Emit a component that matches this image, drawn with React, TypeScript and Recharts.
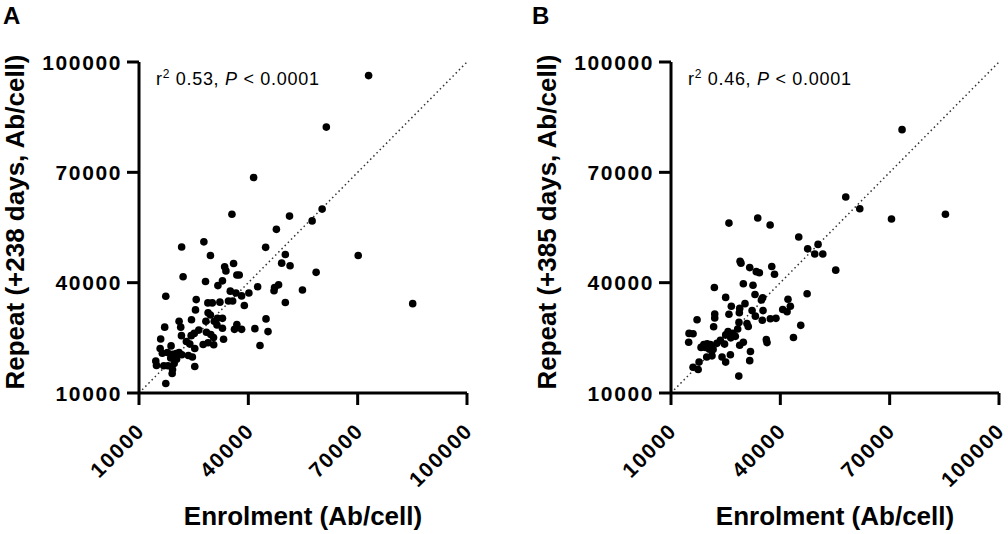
import React from "react";
import {
  ReferenceLine,
  Scatter,
  ScatterChart,
  XAxis,
  YAxis,
} from "recharts";

// Ab/cell values, one entry per subject.
const enrolA = [
  73000, 61400, 41450, 35500, 51300, 60250, 57500, 47700, 27800, 21700, 29600,
  44750, 70150, 50150, 49150, 51450, 35950, 33500, 33850, 36850, 37500, 22100,
  58600, 28250, 32900, 31650, 42550, 47200, 48300, 47050, 54850, 35050, 36600,
  38150, 40150, 17350, 34550, 35700, 38900, 50150, 85100, 25700, 28900, 30100,
  32200, 25500, 28950, 29600, 24400, 21000, 31550, 32900, 28350, 30650, 44850,
  17050, 21450, 31400, 32900, 36850, 36200, 38150, 41800, 45400, 26400, 28500,
  25150, 24300, 21650, 29700, 30450, 33200, 15950, 23000, 23950, 27600, 28950,
  30500, 25300, 18800, 43200, 15800, 16400, 17800, 19200, 20200, 21000, 21750,
  23550, 24650, 14600, 14800, 16800, 17950, 19650, 18700, 20300, 25300, 19100,
  19200, 17350,
];
const repeatA = [
  96300, 82300, 68600, 58600, 58100, 60000, 56800, 54500, 51100, 49700, 47400,
  49600, 47400, 47650, 45300, 44600, 45200, 44300, 43200, 42100, 42100, 41600,
  42800, 40300, 40500, 39200, 38900, 38700, 39400, 37800, 38000, 37700, 37200,
  36400, 37200, 36300, 35000, 35000, 33800, 34600, 34300, 35400, 34500, 34500,
  34700, 32600, 31800, 31200, 29900, 29500, 30300, 30300, 29500, 29500, 30150,
  27900, 27900, 28500, 27600, 28600, 27300, 27300, 27500, 26700, 27100, 26500,
  26200, 25600, 25600, 25900, 25100, 24600, 24700, 24000, 23300, 23200, 23650,
  23100, 22100, 22800, 22900, 22100, 20800, 21000, 20500, 20700, 21000, 20400,
  20200, 19800, 18700, 17500, 17400, 17400, 18000, 19500, 19200, 17200, 15300,
  16400, 12600,
];

const enrolB = [
  73400, 57950, 61800, 70500, 85300, 25900, 33800, 37200, 45050, 47500, 50350,
  49450, 51650, 28950, 29200, 31600, 33400, 34250, 37650, 38400, 55200, 21900,
  29850, 32500, 25000, 33050, 34800, 35150, 47350, 42100, 42750, 40650, 41850,
  26550, 28850, 30300, 28750, 32250, 35250, 33150, 35050, 37250, 38800, 22000,
  22000, 25900, 17150, 21700, 28650, 30850, 31200, 45600, 14950, 16050, 14850,
  28300, 27000, 25650, 25000, 23550, 26400, 27650, 36150, 36350, 43600, 24700,
  29850, 28850, 19000, 19900, 20800, 19450, 18250, 20550, 21550, 31800, 21250,
  19800, 24000, 26300, 25000, 17700, 31600, 16050, 17450, 28600, 22600,
];
const repeatB = [
  81600, 63300, 60100, 57300, 58600, 56200, 57600, 55700, 52400, 49200, 50400,
  47800, 47800, 45800, 45300, 44100, 43000, 42700, 44400, 42300, 43400, 38700,
  39700, 39300, 36000, 36800, 35300, 35900, 37000, 35500, 33600, 32700, 32100,
  33600, 33000, 34300, 31800, 32400, 32400, 30900, 29800, 30200, 30300, 31500,
  30400, 31400, 29900, 28000, 29200, 28900, 28100, 28400, 26200, 26100, 23800,
  27400, 26200, 26700, 25800, 24300, 25000, 25400, 24500, 23700, 25100, 23300,
  23800, 23000, 23200, 23400, 23200, 22400, 22400, 21900, 21800, 21300, 20100,
  19800, 19800, 20400, 18400, 18400, 18800, 17000, 16400, 14600, 23500,
];

const axisTicks = [10000, 40000, 70000, 100000];
const axisDomain: [number, number] = [10000, 100000];

const FONT = '"Liberation Sans", Arial, Helvetica, sans-serif';
const INK = "#000";

function zip(xs: number[], ys: number[]) {
  return xs.map((x, i) => ({ x, y: ys[i] }));
}

function YTick({ x, y, payload }: any) {
  return (
    <text
      x={x}
      y={y}
      dx={-1}
      dy="0.36em"
      textAnchor="end"
      fill={INK}
      fontFamily={FONT}
      fontSize={21}
      fontWeight={700}
      letterSpacing={1.6}
    >
      {payload.value}
    </text>
  );
}

function XTick({ x, y, payload }: any) {
  return (
    <text
      transform={`translate(${x + 7}, ${y + 27}) rotate(-45)`}
      textAnchor="end"
      fill={INK}
      fontFamily={FONT}
      fontSize={21}
      fontWeight={700}
      letterSpacing={1.6}
    >
      {payload.value}
    </text>
  );
}

const dot = (props: any) => (
  <circle cx={props.cx} cy={props.cy} r={3.8} fill={INK} />
);

function Panel({
  letter,
  letterX,
  axisLeft,
  marginRight,
  yTitle,
  stat,
  data,
}: {
  letter: string;
  letterX: number;
  axisLeft: number;
  marginRight: number;
  yTitle: string;
  stat: string;
  data: { x: number; y: number }[];
}) {
  const W = 504;
  const H = 534;
  const plotRight = W - marginRight;
  return (
    <div style={{ position: "relative", width: W, height: H }}>
      <ScatterChart
        width={W}
        height={H}
        margin={{ top: 62, right: marginRight, bottom: 0, left: 0 }}
      >
        <XAxis
          type="number"
          dataKey="x"
          domain={axisDomain}
          ticks={axisTicks}
          interval={0}
          allowDataOverflow
          height={141}
          tickSize={12}
          tickMargin={0}
          tick={<XTick />}
          axisLine={{ stroke: INK, strokeWidth: 3 }}
          tickLine={{ stroke: INK, strokeWidth: 3 }}
        />
        <YAxis
          type="number"
          dataKey="y"
          domain={axisDomain}
          ticks={axisTicks}
          interval={0}
          allowDataOverflow
          width={axisLeft}
          tickSize={12}
          tickMargin={4}
          tick={<YTick />}
          axisLine={{ stroke: INK, strokeWidth: 3 }}
          tickLine={{ stroke: INK, strokeWidth: 3 }}
        />
        <ReferenceLine
          segment={[
            { x: 10000, y: 10000 },
            { x: 100000, y: 100000 },
          ]}
          stroke="#333"
          strokeWidth={1.5}
          strokeDasharray="1.5 3"
        />
        <Scatter data={data} fill={INK} shape={dot} isAnimationActive={false} />
      </ScatterChart>
      <svg
        width={W}
        height={H}
        style={{ position: "absolute", left: 0, top: 0, pointerEvents: "none" }}
      >
        <text
          x={letterX}
          y={24}
          fontFamily={FONT}
          fontSize={24}
          fontWeight={700}
          fill={INK}
        >
          {letter}
        </text>
        <text
          transform={`translate(${axisLeft - 115}, 222) rotate(-90)`}
          textAnchor="middle"
          fontFamily={FONT}
          fontSize={26}
          fontWeight={700}
          fill={INK}
        >
          {yTitle}
        </text>
        <text
          x={(axisLeft + plotRight) / 2}
          y={525}
          textAnchor="middle"
          fontFamily={FONT}
          fontSize={26}
          fontWeight={700}
          fill={INK}
        >
          Enrolment (Ab/cell)
        </text>
        <text
          x={axisLeft + 17}
          y={85}
          fontFamily={FONT}
          fontSize={18}
          fill={INK}
          letterSpacing={0.7}
        >
          r
          <tspan dy={-7} fontSize={12}>
            2
          </tspan>
          <tspan dy={7}>{` ${stat}, `}</tspan>
          <tspan fontStyle="italic">P</tspan>
          {" < 0.0001"}
        </text>
      </svg>
    </div>
  );
}

export default function App() {
  return (
    <div style={{ display: "flex", width: 1008, height: 534, background: "#fff" }}>
      <style>{"body{margin:0;}"}</style>
      <Panel
        letter="A"
        letterX={3}
        axisLeft={139}
        marginRight={37}
        yTitle="Repeat (+238 days, Ab/cell)"
        stat="0.53"
        data={zip(enrolA, repeatA)}
      />
      <Panel
        letter="B"
        letterX={28}
        axisLeft={167}
        marginRight={9}
        yTitle="Repeat (+385 days, Ab/cell)"
        stat="0.46"
        data={zip(enrolB, repeatB)}
      />
    </div>
  );
}
